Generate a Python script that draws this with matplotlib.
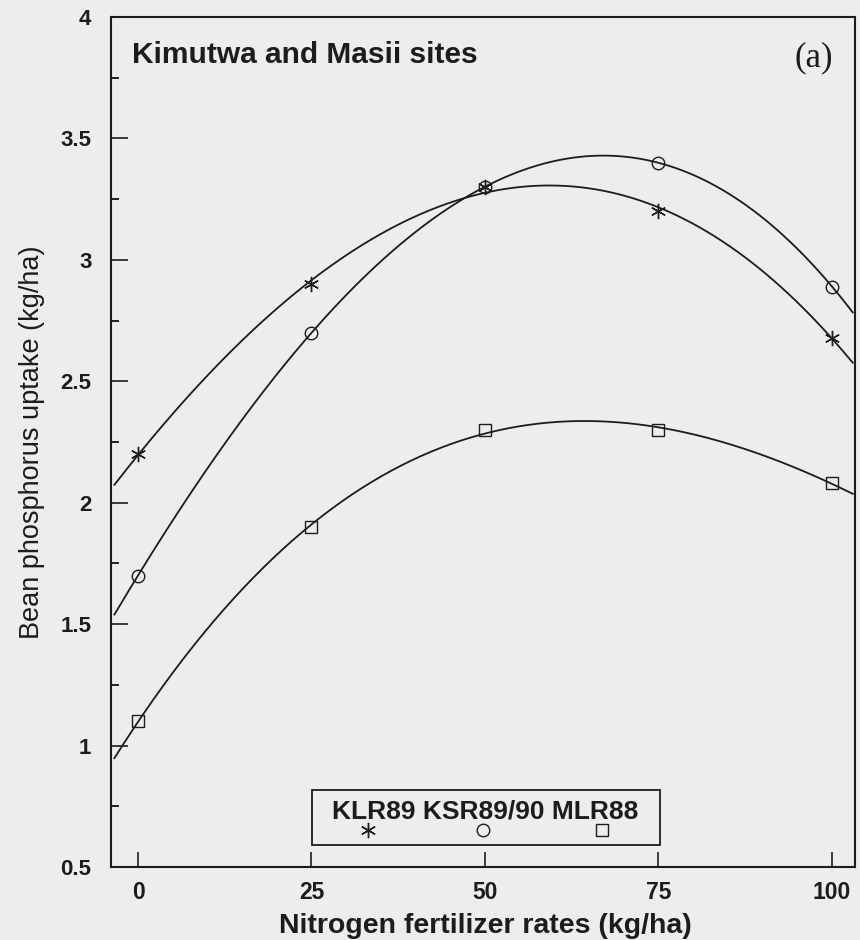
import matplotlib.pyplot as plt
from matplotlib.patches import Rectangle
import numpy as np

# N rates and bean P uptake
n_rates = [0, 25, 50, 75, 100]
klr89 = [2.2, 2.9, 3.3, 3.2, 2.68]
ksr89_90 = [1.7, 2.7, 3.3, 3.4, 2.89]
mlr88 = [1.1, 1.9, 2.3, 2.3, 2.08]
series_names = ['KLR89', 'KSR89/90', 'MLR88']
y_ticks = [0.5, 1, 1.5, 2, 2.5, 3, 3.5, 4]
y_tick_labels = ['0.5', '1', '1.5', '2', '2.5', '3', '3.5', '4']

markers = [(6, 2, 0), 'o', 's']
ink = '#1c1c1c'
paper = '#ededed'

plt.rcParams['font.family'] = ['Liberation Sans', 'DejaVu Sans']

fig = plt.figure(figsize=(8.6, 9.4), dpi=100, facecolor=paper)
ax = fig.add_axes([0.129, 0.0777, 0.865, 0.9043])
ax.set_facecolor(paper)

xmin, xmax = -3.9, 103.3
ax.set_xlim(xmin, xmax)
ax.set_ylim(0.5, 4.0)

# fitted response curves (cubic) + observed points
xs = np.linspace(xmin + 0.5, xmax - 0.3, 300)
for vals, m in zip([klr89, ksr89_90, mlr88], markers):
    coef = np.polyfit(n_rates, vals, 3)
    ax.plot(xs, np.polyval(coef, xs), color=ink, lw=1.3)
    ms = 11 if m == markers[0] else 9
    ax.plot(n_rates, vals, ls='none', marker=m, ms=ms, mfc='none', mec=ink, mew=1.0)

ax.set_xticks(n_rates)
ax.set_xticklabels([str(v) for v in n_rates])
ax.set_yticks(y_ticks)
ax.set_yticklabels(y_tick_labels)
ax.set_yticks(np.arange(0.75, 4.0, 0.5), minor=True)
ax.tick_params(axis='y', which='major', direction='in', length=12, width=1.2,
               pad=14, labelsize=16, colors=ink, right=False)
ax.tick_params(axis='y', which='minor', direction='in', length=6, width=1.2, right=False)
ax.tick_params(axis='x', which='major', direction='in', length=11, width=1.2,
               pad=10, labelsize=16.5, colors=ink, top=False)
for lab in ax.get_xticklabels() + ax.get_yticklabels():
    lab.set_fontweight('bold')
for sp in ax.spines.values():
    sp.set_linewidth(1.5)
    sp.set_color(ink)

ax.set_xlabel('Nitrogen fertilizer rates (kg/ha)', fontsize=20.5, fontweight='bold',
              color=ink)
ax.xaxis.set_label_coords(0.503, -0.054)
ax.set_ylabel('Bean phosphorus uptake (kg/ha)', fontsize=19.5, color=ink, labelpad=11)

ax.text(0.028, 0.955, 'Kimutwa and Masii sites', transform=ax.transAxes,
        fontsize=21.5, fontweight='bold', color=ink, va='center', ha='left')
ax.text(0.97, 0.952, '(a)', transform=ax.transAxes, fontsize=25,
        family=['Liberation Serif', 'DejaVu Serif'], color=ink, va='center', ha='right')

# legend: names on one line, markers underneath
ax.add_patch(Rectangle((0.270, 0.026), 0.468, 0.065, transform=ax.transAxes,
                       fill=False, ec=ink, lw=1.3))
ax.text(0.503, 0.0657, ' '.join(series_names), transform=ax.transAxes,
        fontsize=19, fontweight='bold', color=ink, ha='center', va='center')
for xm, m in zip([0.345, 0.500, 0.660], markers):
    ms = 11 if m == markers[0] else 9
    ax.plot([xm], [0.0440], transform=ax.transAxes, ls='none', marker=m, ms=ms,
            mfc='none', mec=ink, mew=1.0, clip_on=False)

fig.savefig('out.png', dpi=100, facecolor=paper)
